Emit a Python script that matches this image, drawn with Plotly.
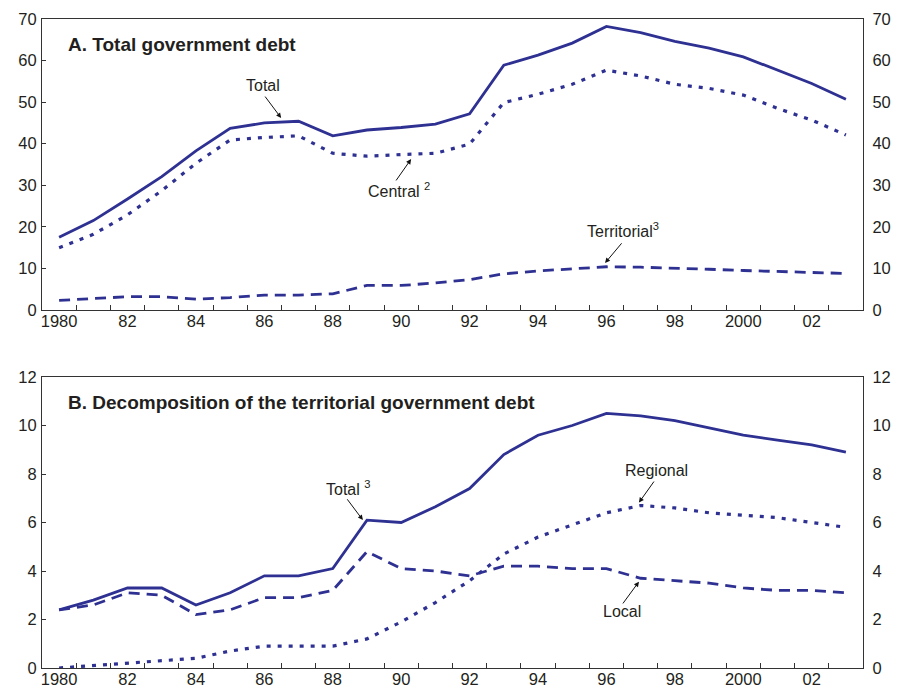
import plotly.graph_objects as go

years = list(range(1980, 2004))

# Panel A: total government debt
total_a = [17.5, 21.5, 26.7, 32.1, 38.3, 43.7, 45.0, 45.4, 41.9, 43.3, 43.9, 44.7,
           47.2, 58.9, 61.3, 64.2, 68.2, 66.7, 64.6, 63.0, 60.9, 57.7, 54.5, 50.7]
central_a = [15.0, 18.2, 22.9, 28.7, 35.3, 40.9, 41.5, 41.9, 37.7, 37.0, 37.4, 37.7,
             39.9, 49.9, 51.9, 54.3, 57.7, 56.3, 54.3, 53.3, 51.7, 48.5, 45.7, 42.1]
territorial_a = [2.3, 2.8, 3.2, 3.2, 2.6, 3.0, 3.6, 3.6, 3.9, 5.9, 5.9, 6.5,
                 7.3, 8.7, 9.4, 9.9, 10.4, 10.3, 10.1, 9.8, 9.5, 9.3, 9.1, 8.8]

# Panel B: decomposition of territorial government debt
total_b = [2.4, 2.8, 3.3, 3.3, 2.6, 3.1, 3.8, 3.8, 4.1, 6.1, 6.0, 6.65,
           7.4, 8.8, 9.6, 10.0, 10.5, 10.4, 10.2, 9.9, 9.6, 9.4, 9.2, 8.9]
local_b = [2.4, 2.6, 3.1, 3.0, 2.2, 2.4, 2.9, 2.9, 3.2, 4.8, 4.1, 4.0,
           3.8, 4.2, 4.2, 4.1, 4.1, 3.7, 3.6, 3.5, 3.3, 3.2, 3.2, 3.1]
regional_b = [0.0, 0.1, 0.18, 0.27, 0.4, 0.7, 0.9, 0.9, 0.9, 1.2, 1.9, 2.7,
              3.6, 4.7, 5.4, 5.9, 6.4, 6.7, 6.6, 6.4, 6.3, 6.2, 6.0, 5.8]

tick_years = [1980, 1982, 1984, 1986, 1988, 1990, 1992, 1994, 1996, 1998, 2000, 2002]
tick_text = ["1980", "82", "84", "86", "88", "90", "92", "94", "96", "98", "2000", "02"]
minor_ticks = [y + 0.5 for y in range(1980, 2003)]

BLUE = "#2E3192"
AXC = "#333333"
TXT = "#231F20"
FONT = "Liberation Sans, Arial, sans-serif"
DOT = "4px,7px"
DASH = "11px,7px"

fig = go.Figure()

def add(y, yax, xax, dash, width):
    fig.add_trace(go.Scatter(x=years, y=y, xaxis=xax, yaxis=yax, mode="lines",
                             line=dict(color=BLUE, width=width, dash=dash),
                             showlegend=False, hoverinfo="skip"))

add(total_a, "y", "x", "solid", 2.8)
add(central_a, "y", "x", DOT, 3.2)
add(territorial_a, "y", "x", DASH, 2.8)
add(total_b, "y2", "x2", "solid", 2.8)
add(regional_b, "y2", "x2", DOT, 3.2)
add(local_b, "y2", "x2", DASH, 2.8)

# invisible traces for right-hand axes
fig.add_trace(go.Scatter(x=years, y=total_a, xaxis="x", yaxis="y3", mode="lines",
                         opacity=0, showlegend=False, hoverinfo="skip"))
fig.add_trace(go.Scatter(x=years, y=total_b, xaxis="x2", yaxis="y4", mode="lines",
                         opacity=0, showlegend=False, hoverinfo="skip"))

top_dom = [1 - 291 / 649, 1]
bot_dom = [0, 291 / 649]

TICKSIZE = 16.5

xcommon = dict(range=[1979.5, 2003.5], tickmode="array", tickvals=tick_years,
               ticktext=tick_text, ticks="", showgrid=False, zeroline=False,
               showline=True, mirror=True, linecolor=AXC, linewidth=1.2,
               automargin=False, ticklabelstandoff=-4,
               tickfont=dict(size=TICKSIZE, color=TXT, family=FONT),
               minor=dict(tickmode="array", tickvals=minor_ticks, ticks="inside",
                          ticklen=5, tickcolor=AXC, tickwidth=1, showgrid=False))

def ycommon(rng, dt, dom, side="left", ticks="inside", standoff=0):
    return dict(range=rng, dtick=dt, tick0=0, domain=dom, side=side,
                ticks=ticks, ticklen=4, tickcolor=AXC, showgrid=False,
                zeroline=False, showline=True, linecolor=AXC, linewidth=1.2,
                automargin=False, ticklabelstandoff=standoff,
                tickfont=dict(size=TICKSIZE, color=TXT, family=FONT))

fig.update_layout(
    width=897, height=688,
    margin=dict(l=42, r=34, t=19, b=20, autoexpand=False),
    paper_bgcolor="white", plot_bgcolor="white",
    font=dict(family=FONT, size=16, color=TXT),
    xaxis=dict(**xcommon, anchor="y", domain=[0, 1]),
    xaxis2=dict(**xcommon, anchor="y2", domain=[0, 1]),
    yaxis=dict(**ycommon([0, 70], 10, top_dom, standoff=1), anchor="x", mirror=True),
    yaxis2=dict(**ycommon([0, 12], 2, bot_dom, standoff=1), anchor="x2", mirror=True),
    yaxis3=dict(**ycommon([0, 70], 10, top_dom, side="right", ticks="", standoff=5),
                anchor="x", overlaying="y"),
    yaxis4=dict(**ycommon([0, 12], 2, bot_dom, side="right", ticks="", standoff=5),
                anchor="x2", overlaying="y2"),
)

ann = []
# Titles
ann.append(dict(text="<b>A. Total government debt</b>", xref="x domain", yref="y domain",
                x=0.0292, y=0.914, xanchor="left", yanchor="middle", showarrow=False,
                font=dict(size=19, color=TXT, family=FONT)))
ann.append(dict(text="<b>B. Decomposition of the territorial government debt</b>",
                xref="x2 domain", yref="y2 domain", x=0.0292, y=0.911,
                xanchor="left", yanchor="middle", showarrow=False,
                font=dict(size=19, color=TXT, family=FONT)))

# Labels (text, x, y, xref, yref)
labels = [
    ("Total", 1985.96, 53.9, "x", "y"),
    ("Central <sup>2</sup>", 1989.94, 28.9, "x", "y"),
    ("Territorial<sup>3</sup>", 1996.48, 19.2, "x", "y"),
    ("Total <sup>3</sup>", 1988.44, 7.43, "x2", "y2"),
    ("Regional", 1997.45, 8.16, "x2", "y2"),
    ("Local", 1996.45, 2.31, "x2", "y2"),
]
for t, x, y, xr, yr in labels:
    ann.append(dict(text=t, x=x, y=y, xref=xr, yref=yr, showarrow=False,
                    xanchor="center", yanchor="middle",
                    font=dict(size=16, color=TXT, family=FONT)))

# Arrows (head x, head y, tail x, tail y, xref, yref)
arrows = [
    (1986.49, 46.2, 1985.99, 51.7, "x", "y"),
    (1990.29, 36.3, 1989.82, 30.8, "x", "y"),
    (1995.96, 11.3, 1996.48, 16.4, "x", "y"),
    (1988.88, 6.10, 1988.39, 7.02, "x2", "y2"),
    (1996.95, 6.82, 1997.42, 7.75, "x2", "y2"),
    (1996.95, 3.56, 1996.45, 2.60, "x2", "y2"),
]
for hx, hy, tx, ty, xr, yr in arrows:
    ann.append(dict(text="", x=hx, y=hy, ax=tx, ay=ty, xref=xr, yref=yr,
                    axref=xr, ayref=yr, showarrow=True, arrowhead=2,
                    arrowsize=1, arrowwidth=1, arrowcolor="#111111", standoff=0))

fig.update_layout(annotations=ann)

fig.write_html("out.html",
               config={"displayModeBar": False},
               post_script="document.body.style.margin='0px';"
                           "document.body.style.overflow='hidden';")
